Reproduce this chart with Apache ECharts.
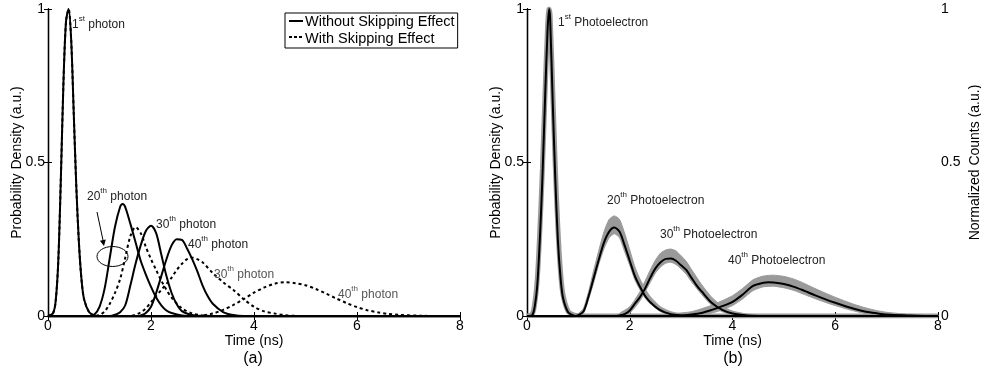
<!DOCTYPE html>
<html>
<head>
<meta charset="utf-8">
<script src="https://cdn.jsdelivr.net/npm/echarts@6/dist/echarts.min.js"></script>
<style>
  html, body { margin: 0; padding: 0; background: #fff; }
  #main { width: 981px; height: 387px; }
</style>
</head>
<body>
<div id="main"></div>
<script>
// axis ticks
const xTicks = [0, 2, 4, 6, 8];
const yTicks = [0, 0.5, 1];

// (a) photon arrival densities, [time, density]
const photon1 = [[0,0],[0.1,0.01],[0.15,0.05],[0.2,0.18],[0.25,0.45],[0.3,0.76],[0.35,0.96],[0.4,1.0],[0.45,0.9],[0.5,0.66],[0.55,0.42],[0.6,0.24],[0.65,0.12],[0.7,0.055],[0.8,0.012],[0.9,0.002],[1.0,0],[8,0]];
const solid20 = [[0,0],[0.8,0],[0.9,0.005],[1.0,0.03],[1.1,0.09],[1.2,0.19],[1.3,0.29],[1.4,0.355],[1.45,0.365],[1.5,0.355],[1.6,0.3],[1.7,0.24],[1.8,0.18],[1.9,0.135],[2.0,0.095],[2.1,0.06],[2.2,0.035],[2.3,0.018],[2.4,0.01],[2.6,0.002],[2.8,0],[8,0]];
const solid30 = [[0,0],[1.2,0],[1.3,0.004],[1.4,0.012],[1.5,0.035],[1.6,0.1],[1.7,0.17],[1.8,0.23],[1.9,0.277],[2.0,0.294],[2.1,0.27],[2.2,0.2],[2.3,0.13],[2.4,0.075],[2.5,0.038],[2.6,0.016],[2.8,0.003],[3.0,0],[8,0]];
const solid40 = [[0,0],[1.7,0],[1.8,0.002],[1.9,0.01],[2.0,0.03],[2.1,0.075],[2.2,0.13],[2.3,0.185],[2.4,0.23],[2.5,0.25],[2.6,0.248],[2.7,0.22],[2.8,0.185],[2.9,0.145],[3.0,0.1],[3.1,0.065],[3.2,0.04],[3.4,0.013],[3.6,0.003],[3.8,0],[8,0]];
const dashed20 = [[0,0],[0.9,0],[1.0,0.003],[1.1,0.015],[1.2,0.04],[1.3,0.075],[1.4,0.12],[1.5,0.19],[1.6,0.26],[1.7,0.29],[1.8,0.27],[1.9,0.225],[2.0,0.185],[2.1,0.15],[2.2,0.115],[2.3,0.085],[2.4,0.06],[2.6,0.025],[2.8,0.008],[3.0,0.002],[3.2,0],[8,0]];
const dashed30 = [[0,0],[1.6,0],[1.7,0.004],[1.8,0.012],[1.9,0.025],[2.0,0.045],[2.1,0.065],[2.2,0.085],[2.3,0.105],[2.4,0.125],[2.5,0.15],[2.6,0.17],[2.7,0.185],[2.8,0.19],[2.9,0.185],[3.0,0.175],[3.2,0.14],[3.4,0.11],[3.6,0.085],[3.8,0.055],[4.0,0.03],[4.2,0.015],[4.4,0.008],[4.6,0.003],[4.9,0],[8,0]];
const dashed40 = [[0,0],[2.9,0],[3.0,0.002],[3.2,0.008],[3.4,0.02],[3.6,0.036],[3.8,0.055],[4.0,0.076],[4.2,0.093],[4.4,0.105],[4.6,0.11],[4.8,0.107],[5.0,0.1],[5.2,0.088],[5.4,0.073],[5.6,0.057],[5.8,0.042],[6.0,0.029],[6.2,0.019],[6.4,0.012],[6.6,0.007],[6.8,0.004],[7.2,0.001],[7.6,0],[8,0]];

// (b) fitted curves, [time, density]
const fit1 = [[0,0],[0.1,0.003],[0.15,0.03],[0.2,0.1],[0.25,0.25],[0.3,0.45],[0.35,0.7],[0.4,0.93],[0.43,1.0],[0.45,0.97],[0.5,0.7],[0.55,0.45],[0.6,0.25],[0.65,0.13],[0.7,0.06],[0.8,0.012],[0.9,0.002],[1.0,0],[8,0]];
const fit20 = [[0,0],[0.9,0],[1.0,0.003],[1.1,0.015],[1.2,0.065],[1.3,0.125],[1.4,0.185],[1.5,0.24],[1.6,0.275],[1.7,0.288],[1.8,0.275],[1.9,0.23],[2.0,0.18],[2.1,0.13],[2.2,0.095],[2.3,0.065],[2.4,0.045],[2.6,0.018],[2.8,0.006],[3.0,0.002],[3.2,0],[8,0]];
const fit30 = [[0,0],[1.7,0],[1.8,0.002],[1.9,0.006],[2.0,0.018],[2.1,0.04],[2.2,0.062],[2.3,0.09],[2.4,0.125],[2.5,0.155],[2.6,0.175],[2.7,0.186],[2.8,0.187],[2.9,0.18],[3.0,0.165],[3.1,0.15],[3.2,0.125],[3.3,0.1],[3.4,0.08],[3.6,0.042],[3.8,0.02],[4.0,0.008],[4.2,0.003],[4.5,0],[8,0]];
const fit40 = [[0,0],[2.8,0],[3.0,0.002],[3.2,0.005],[3.4,0.01],[3.6,0.02],[3.8,0.032],[4.0,0.046],[4.2,0.07],[4.4,0.098],[4.6,0.108],[4.7,0.11],[4.8,0.109],[5.0,0.104],[5.2,0.095],[5.4,0.082],[5.6,0.068],[5.8,0.055],[6.0,0.043],[6.2,0.032],[6.4,0.022],[6.6,0.014],[6.8,0.009],[7.0,0.005],[7.4,0.002],[7.8,0],[8,0]];

// (b) measured counts: first peak as a line, others as bands [time, low, high]
const meas1 = [[0,0],[0.1,0.006],[0.15,0.04],[0.2,0.12],[0.25,0.28],[0.3,0.48],[0.35,0.72],[0.4,0.94],[0.43,1.0],[0.45,0.98],[0.5,0.74],[0.55,0.49],[0.6,0.29],[0.65,0.15],[0.7,0.07],[0.8,0.015],[0.9,0.004],[1.0,0.001],[8,0]];
const band20 = [[0.9,0,0.004],[1.0,0,0.008],[1.1,0.008,0.025],[1.2,0.055,0.08],[1.3,0.11,0.15],[1.4,0.17,0.215],[1.5,0.22,0.275],[1.6,0.255,0.315],[1.7,0.268,0.326],[1.8,0.255,0.315],[1.9,0.21,0.27],[2.0,0.165,0.215],[2.1,0.118,0.16],[2.2,0.085,0.12],[2.3,0.058,0.088],[2.4,0.04,0.063],[2.6,0.014,0.03],[2.8,0.004,0.014],[3.0,0,0.007],[3.2,0,0.004]];
const band30 = [[1.8,0,0.008],[2.0,0.01,0.03],[2.2,0.05,0.08],[2.4,0.11,0.15],[2.5,0.14,0.182],[2.6,0.16,0.205],[2.7,0.172,0.215],[2.8,0.175,0.218],[2.9,0.168,0.212],[3.0,0.153,0.196],[3.1,0.136,0.178],[3.2,0.112,0.152],[3.4,0.07,0.102],[3.6,0.034,0.06],[3.8,0.014,0.032],[4.0,0.004,0.016],[4.3,0,0.006],[4.6,0,0.003]];
const band40 = [[2.8,0,0.006],[3.2,0,0.014],[3.6,0.01,0.035],[3.8,0.02,0.05],[4.0,0.034,0.066],[4.2,0.056,0.09],[4.4,0.083,0.118],[4.6,0.095,0.13],[4.8,0.097,0.133],[5.0,0.092,0.129],[5.2,0.083,0.12],[5.4,0.07,0.106],[5.6,0.057,0.09],[5.8,0.045,0.075],[6.0,0.034,0.061],[6.2,0.024,0.048],[6.4,0.015,0.036],[6.6,0.008,0.026],[6.8,0.004,0.018],[7.0,0.001,0.012],[7.4,0,0.006],[7.8,0,0.004],[8.0,0,0.003]];
const bands = [band20, band30, band40];

const chart = echarts.init(document.getElementById('main'));
const FONT = 'Liberation Sans';

const axisLine = { show: true, lineStyle: { color: '#000', width: 1.3 } };
const tick = { show: true, inside: true, length: 4, lineStyle: { color: '#000' } };

function xAxis(grid, pos, withLabel) {
  return {
    gridIndex: grid, type: 'value', position: pos, min: 0, max: 8, interval: 2,
    axisLine: axisLine, axisTick: tick, splitLine: { show: false },
    axisLabel: { show: withLabel, color: '#000', fontSize: 14, fontFamily: FONT, margin: 3 },
    name: withLabel ? 'Time (ns)' : '', nameLocation: 'middle', nameGap: 18, nameMoveOverlap: false,
    nameTextStyle: { color: '#000', fontSize: 14, fontFamily: FONT },
  };
}
function yAxis(grid, pos, withLabel, name, gap) {
  return {
    gridIndex: grid, type: 'value', position: pos, min: 0, max: 1, interval: 0.5,
    axisLine: axisLine, axisTick: tick, splitLine: { show: false },
    axisLabel: { show: withLabel, color: '#000', fontSize: 14, fontFamily: FONT, margin: 3 },
    name: name, nameLocation: 'middle', nameGap: gap, nameRotate: 90, nameMoveOverlap: false,
    nameTextStyle: { color: '#000', fontSize: 14, fontFamily: FONT },
  };
}

function line(name, data, xi, yi, opts) {
  return Object.assign({
    name: name, type: 'line', data: data, xAxisIndex: xi, yAxisIndex: yi,
    symbol: 'none', smooth: 0.3, silent: true,
    lineStyle: { color: '#000', width: 2 },
    itemStyle: { color: '#000' },
  }, opts || {});
}

const SOLID = 'Without Skipping Effect';
const DASH = 'With Skipping Effect';
const dashStyle = { color: '#000', width: 2, type: [3, 3] };

// superscript label helper
function supText(x, y, num, sup, rest, color) {
  return {
    type: 'text', x: x, y: y, z: 100,
    style: {
      text: '{n|' + num + '}{s|' + sup + '}{n|' + rest + '}',
      verticalAlign: 'middle', fill: color,
      rich: {
        n: { fontSize: 12, fontFamily: FONT, lineHeight: 20, fill: color },
        s: { fontSize: 8, fontFamily: FONT, lineHeight: 10, verticalAlign: 'top', fill: color },
      },
    },
  };
}

const option = {
  backgroundColor: '#fff',
  animation: false,
  grid: [
    { left: 48, right: 521, top: 9, height: 307, outerBoundsMode: 'none' },
    { left: 527, right: 43, top: 9, height: 307, outerBoundsMode: 'none' },
  ],
  xAxis: [xAxis(0, 'bottom', true), xAxis(0, 'top', false), xAxis(1, 'bottom', true), xAxis(1, 'top', false)],
  yAxis: [
    yAxis(0, 'left', true, 'Probability Density (a.u.)', 24),
    yAxis(0, 'right', false, '', 0),
    yAxis(1, 'left', true, 'Probability Density (a.u.)', 24),
    yAxis(1, 'right', true, 'Normalized Counts (a.u.)', 30),
  ],
  // legend box and text; the line samples are drawn in graphic below
  legend: {
    data: [SOLID, DASH],
    orient: 'vertical', left: 285, top: 13,
    padding: [1, 3, 2, 3], itemGap: 2, itemWidth: 11, itemHeight: 14,
    backgroundColor: '#fff', borderColor: '#000', borderWidth: 1, borderRadius: 0,
    selectedMode: false,
    itemStyle: { opacity: 0 }, lineStyle: { opacity: 0 },
    textStyle: { color: '#000', fontSize: 14.5, fontFamily: FONT },
  },
  series: [
    // (a) with skipping effect (dashed)
    line(DASH, photon1, 0, 0, { lineStyle: dashStyle }),
    line(DASH, dashed20, 0, 0, { lineStyle: dashStyle }),
    line(DASH, dashed30, 0, 0, { lineStyle: dashStyle }),
    line(DASH, dashed40, 0, 0, { lineStyle: dashStyle }),
    // (a) without skipping effect (solid)
    line(SOLID, photon1, 0, 0),
    line(SOLID, solid20, 0, 0),
    line(SOLID, solid30, 0, 0),
    line(SOLID, solid40, 0, 0),
    // (b) measured bands
    {
      type: 'custom', xAxisIndex: 2, yAxisIndex: 2, silent: true,
      data: bands.map((b, i) => [b[0][0], 0]),
      renderItem: (params, api) => {
        const b = bands[params.dataIndex];
        const top = b.map(p => api.coord([p[0], p[2]]));
        const bot = b.map(p => api.coord([p[0], p[1]])).reverse();
        return {
          type: 'polygon',
          shape: { points: top.concat(bot), smooth: 0.2 },
          style: { fill: '#9a9a9a', stroke: '#9a9a9a', lineWidth: 1 },
        };
      },
    },
    line('measured', meas1, 2, 2, { lineStyle: { color: '#9a9a9a', width: 5 } }),
    // (b) fits
    line('fit', fit1, 2, 2),
    line('fit', fit20, 2, 2),
    line('fit', fit30, 2, 2),
    line('fit', fit40, 2, 2),
  ],
  graphic: [
    // legend line samples
    { type: 'line', z: 200, shape: { x1: 289, y1: 21, x2: 303, y2: 21 }, style: { stroke: '#000', lineWidth: 2 } },
    { type: 'line', z: 200, shape: { x1: 289, y1: 37, x2: 303, y2: 37 }, style: { stroke: '#000', lineWidth: 2, lineDash: [3, 2] } },
    // (a) annotations
    supText(72, 25, '1', 'st', ' photon', '#222'),
    supText(87, 197, '20', 'th', ' photon', '#222'),
    supText(156, 225, '30', 'th', ' photon', '#222'),
    supText(188, 245, '40', 'th', ' photon', '#222'),
    supText(214, 275, '30', 'th', ' photon', '#555'),
    supText(338, 295, '40', 'th', ' photon', '#555'),
    { type: 'line', shape: { x1: 97, y1: 212, x2: 103.4, y2: 242 }, style: { stroke: '#000', lineWidth: 1 } },
    { type: 'polygon', shape: { points: [[104, 246], [105.8, 239.6], [99.9, 240.8]] }, style: { fill: '#000' } },
    { type: 'ellipse', shape: { cx: 112.5, cy: 256.5, rx: 15.5, ry: 10 }, style: { fill: 'none', stroke: '#000', lineWidth: 1 } },
    // (b) annotations
    supText(558, 23, '1', 'st', ' Photoelectron', '#222'),
    supText(607, 201, '20', 'th', ' Photoelectron', '#222'),
    supText(660, 235, '30', 'th', ' Photoelectron', '#222'),
    supText(728, 261, '40', 'th', ' Photoelectron', '#222'),
    // panel captions
    { type: 'text', x: 253, y: 359, style: { text: '(a)', fontSize: 16, fontFamily: FONT, fill: '#000', align: 'center', verticalAlign: 'middle' } },
    { type: 'text', x: 733, y: 359, style: { text: '(b)', fontSize: 16, fontFamily: FONT, fill: '#000', align: 'center', verticalAlign: 'middle' } },
  ],
};

chart.setOption(option);
</script>
</body>
</html>
